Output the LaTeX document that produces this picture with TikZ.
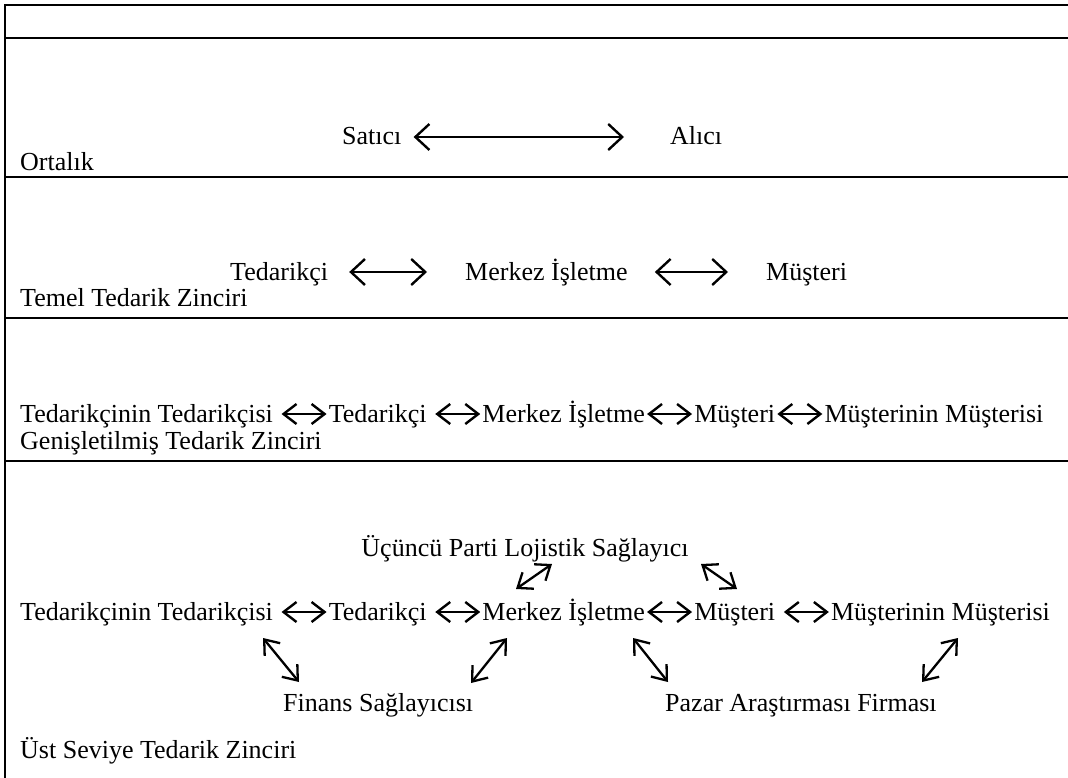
\documentclass[tikz,border=0pt]{standalone}
\usepackage{fontspec}
\setmainfont{Liberation Serif}
\usetikzlibrary{arrows.meta}
\begin{document}
\begin{tikzpicture}[x=1pt,y=-1pt,
  txt/.style={font=\fontsize{26}{30}\selectfont, inner sep=0pt, text height=19pt, text depth=3pt, anchor=base west},
  frame/.style={line width=2.5pt, line join=miter},
  longarr/.style={{Straight Barb[length=14pt,width=26pt]}-{Straight Barb[length=14pt,width=26pt]}, line width=2.4pt},
  shortarr/.style={{Straight Barb[length=13pt,width=20pt]}-{Straight Barb[length=13pt,width=20pt]}, line width=2.4pt},
  diag/.style={{Straight Barb[length=13pt,width=20pt]}-{Straight Barb[length=13pt,width=20pt]}, line width=2.3pt},
]
\useasboundingbox (0,0) rectangle (1068,778);
% frame
\draw[frame] (1075,5) -- (5,5) -- (5,785);
\foreach \yy in {38,177,318,461} \draw[frame] (5,\yy) -- (1075,\yy);

% row 2
\node[txt] (sat) at (342,145) {Satıcı};
\node[txt] (alc) at (670,145) {Alıcı};
\draw[longarr, shorten <=12pt, shorten >=46pt] (sat.east) -- (alc.west);
\node[txt] (l1) at (20,171) {Ortalık};

% row 3
\node[txt] (r3a) at (230,280) {Tedarikçi};
\node[txt] (r3b) at (465,280) {Merkez İşletme};
\node[txt] (r3c) at (766,280) {Müşteri};
\draw[longarr, shorten <=21pt, shorten >=38pt] (r3a.east) -- (r3b.west);
\draw[longarr, shorten <=27pt, shorten >=38pt] (r3b.east) -- (r3c.west);
\node[txt] (l2) at (20,306) {Temel Tedarik Zinciri};

% row 4
\node[txt] (r4a) at (20,422) {Tedarikçinin Tedarikçisi};
\node[txt] (r4b) at ([xshift=55.5pt]r4a.base east) {Tedarikçi};
\node[txt] (r4c) at ([xshift=55.5pt]r4b.base east) {Merkez İşletme};
\node[txt] (r4d) at ([xshift=49pt]r4c.base east) {Müşteri};
\node[txt] (r4e) at ([xshift=49pt]r4d.base east) {Müşterinin Müşterisi};
\draw[shortarr, shorten <=8.5pt, shorten >=2pt] (r4a.east) -- (r4b.west);
\draw[shortarr, shorten <=8.5pt, shorten >=2pt] (r4b.east) -- (r4c.west);
\draw[shortarr, shorten <=2pt, shorten >=2pt] (r4c.east) -- (r4d.west);
\draw[shortarr, shorten <=2pt, shorten >=2pt] (r4d.east) -- (r4e.west);
\node[txt] (l3) at (20,449) {Genişletilmiş Tedarik Zinciri};

% row 5
\node[txt, anchor=base] (lp) at (525,556) {Üçüncü Parti Lojistik Sağlayıcı};
\node[txt] (r5a) at (20,620) {Tedarikçinin Tedarikçisi};
\node[txt] (r5b) at ([xshift=55.5pt]r5a.base east) {Tedarikçi};
\node[txt] (r5c) at ([xshift=55.5pt]r5b.base east) {Merkez İşletme};
\node[txt] (r5d) at ([xshift=49pt]r5c.base east) {Müşteri};
\node[txt] (r5e) at ([xshift=55.5pt]r5d.base east) {Müşterinin Müşterisi};
\draw[shortarr, shorten <=8.5pt, shorten >=2pt] (r5a.east) -- (r5b.west);
\draw[shortarr, shorten <=8.5pt, shorten >=2pt] (r5b.east) -- (r5c.west);
\draw[shortarr, shorten <=2pt, shorten >=2pt] (r5c.east) -- (r5d.west);
\draw[shortarr, shorten <=8.5pt, shorten >=2pt] (r5d.east) -- (r5e.west);
\node[txt] (fin) at (283,711) {Finans Sağlayıcısı};
\node[txt] (paz) at (665,711) {Pazar Araştırması Firması};
\node[txt] (l4) at (20,758) {Üst Seviye Tedarik Zinciri};

% diagonal arrows
\coordinate (u1a) at (516,589); \coordinate (u1b) at (552,564);
\coordinate (u2a) at (701,564); \coordinate (u2b) at (737,589);
\coordinate (d1a) at (263,638); \coordinate (d1b) at (299,682);
\coordinate (d2a) at (507,638); \coordinate (d2b) at (471,683);
\coordinate (d3a) at (633,638); \coordinate (d3b) at (668,682);
\coordinate (d4a) at (958,638); \coordinate (d4b) at (922,682);
\draw[diag] (u1a) -- (u1b);
\draw[diag] (u2a) -- (u2b);
\draw[diag] (d1a) -- (d1b);
\draw[diag] (d2a) -- (d2b);
\draw[diag] (d3a) -- (d3b);
\draw[diag] (d4a) -- (d4b);
\end{tikzpicture}
\end{document}
